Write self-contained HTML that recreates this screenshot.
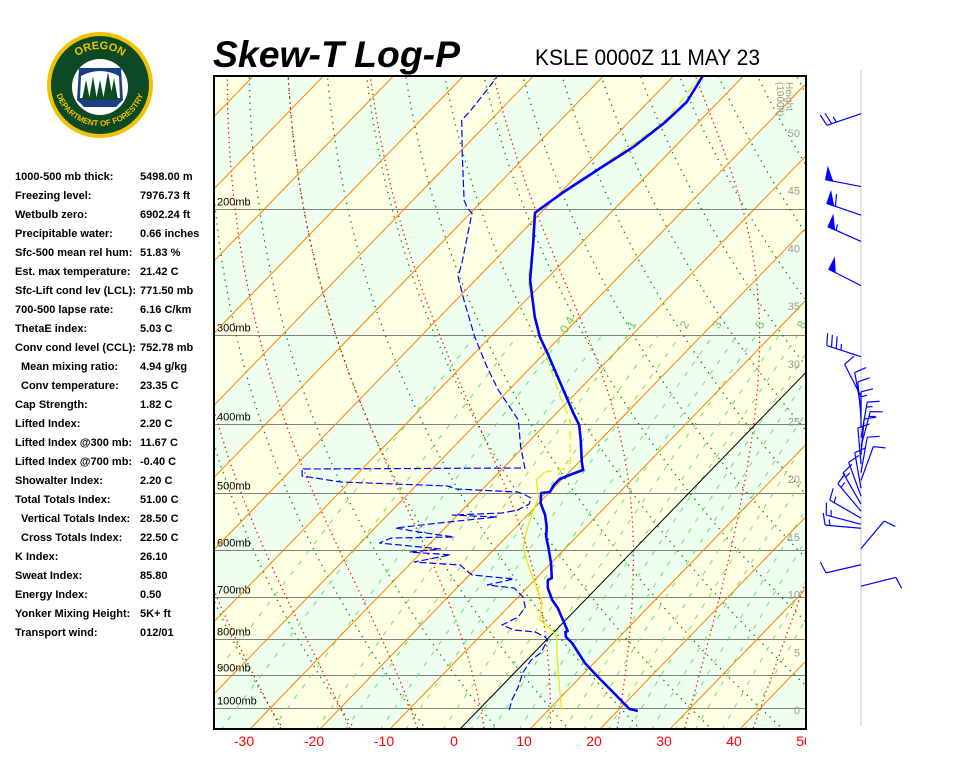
<!DOCTYPE html>
<html><head><meta charset="utf-8">
<style>
body{margin:0;background:#fff}
svg{display:block}
text{font-family:"Liberation Sans",Arial,sans-serif}
.st{font-size:11px;font-weight:bold;fill:#000}
</style></head>
<body>
<svg id="s" width="960" height="768" viewBox="0 0 960 768" xmlns="http://www.w3.org/2000/svg">
<defs>
<clipPath id="pc"><rect x="214" y="76" width="592" height="653"/></clipPath>
<clipPath id="lc"><rect x="200" y="730" width="606" height="30"/></clipPath>
<path id="arcTop" d="M61,88 A39,39 0 0 1 139,88"/>
<path id="arcBot" d="M54,80 A46,46 0 0 0 146,80"/>
</defs>

<g>
<circle cx="100" cy="85" r="53" fill="#f2c200"/>
<circle cx="100" cy="85" r="49" fill="#0b4a25"/>
<circle cx="100" cy="87" r="28" fill="#fff"/>
<path d="M79,68 L121,68 L123,100 L116,107 L84,107 L77,100 Z" fill="#1b3f86"/>
<path d="M81,76 Q100,66 119,76 L120,98 L80,98 Z" fill="#fff"/>
<polygon points="82,100 86,80 90,100" fill="#0b4a25"/>
<polygon points="89,100 93,76 97,100" fill="#0b4a25"/>
<polygon points="96,100 100,80 104,100" fill="#0b4a25"/>
<polygon points="103,100 108,72 113,100" fill="#0b4a25"/>
<polygon points="110,100 114,78 118,100" fill="#0b4a25"/>
<text font-size="11" font-weight="bold" fill="#f2c200"><textPath href="#arcTop" startOffset="50%" text-anchor="middle">OREGON</textPath></text>
<text font-size="8" font-weight="bold" fill="#f2c200"><textPath href="#arcBot" startOffset="50%" text-anchor="middle">DEPARTMENT OF FORESTRY</textPath></text>
</g>

<text x="213" y="67" font-size="37" font-weight="bold" font-style="italic" textLength="247" lengthAdjust="spacingAndGlyphs">Skew-T Log-P</text>
<text x="535" y="65" font-size="22" textLength="225" lengthAdjust="spacingAndGlyphs">KSLE 0000Z 11 MAY 23</text>

<g>
<text class="st" x="15" y="180">1000-500 mb thick:</text><text class="st" x="140" y="180">5498.00 m</text>
<text class="st" x="15" y="199">Freezing level:</text><text class="st" x="140" y="199">7976.73 ft</text>
<text class="st" x="15" y="218">Wetbulb zero:</text><text class="st" x="140" y="218">6902.24 ft</text>
<text class="st" x="15" y="237">Precipitable water:</text><text class="st" x="140" y="237">0.66 inches</text>
<text class="st" x="15" y="256">Sfc-500 mean rel hum:</text><text class="st" x="140" y="256">51.83 %</text>
<text class="st" x="15" y="275">Est. max temperature:</text><text class="st" x="140" y="275">21.42 C</text>
<text class="st" x="15" y="294">Sfc-Lift cond lev (LCL):</text><text class="st" x="140" y="294">771.50 mb</text>
<text class="st" x="15" y="313">700-500 lapse rate:</text><text class="st" x="140" y="313">6.16 C/km</text>
<text class="st" x="15" y="332">ThetaE index:</text><text class="st" x="140" y="332">5.03 C</text>
<text class="st" x="15" y="351">Conv cond level (CCL):</text><text class="st" x="140" y="351">752.78 mb</text>
<text class="st" x="21" y="370">Mean mixing ratio:</text><text class="st" x="140" y="370">4.94 g/kg</text>
<text class="st" x="21" y="389">Conv temperature:</text><text class="st" x="140" y="389">23.35 C</text>
<text class="st" x="15" y="408">Cap Strength:</text><text class="st" x="140" y="408">1.82 C</text>
<text class="st" x="15" y="427">Lifted Index:</text><text class="st" x="140" y="427">2.20 C</text>
<text class="st" x="15" y="446">Lifted Index @300 mb:</text><text class="st" x="140" y="446">11.67 C</text>
<text class="st" x="15" y="465">Lifted Index @700 mb:</text><text class="st" x="140" y="465">-0.40 C</text>
<text class="st" x="15" y="484">Showalter Index:</text><text class="st" x="140" y="484">2.20 C</text>
<text class="st" x="15" y="503">Total Totals Index:</text><text class="st" x="140" y="503">51.00 C</text>
<text class="st" x="21" y="522">Vertical Totals Index:</text><text class="st" x="140" y="522">28.50 C</text>
<text class="st" x="21" y="541">Cross Totals Index:</text><text class="st" x="140" y="541">22.50 C</text>
<text class="st" x="15" y="560">K Index:</text><text class="st" x="140" y="560">26.10</text>
<text class="st" x="15" y="579">Sweat Index:</text><text class="st" x="140" y="579">85.80</text>
<text class="st" x="15" y="598">Energy Index:</text><text class="st" x="140" y="598">0.50</text>
<text class="st" x="15" y="617">Yonker Mixing Height:</text><text class="st" x="140" y="617">5K+ ft</text>
<text class="st" x="15" y="636">Transport wind:</text><text class="st" x="140" y="636">012/01</text>
</g>

<g id="plot" clip-path="url(#pc)">
<g id="bands"></g><g id="grid"></g><g id="series"></g>
</g>
<g id="labels"></g>
<rect x="214" y="76" width="592" height="653" fill="none" stroke="#000" stroke-width="2"/>
<line x1="861" y1="70" x2="861" y2="726" stroke="#e4e4e4" stroke-width="2"/>
<g id="winds"></g>
</svg>

<script>
// ---- data ----
const tempP=[1009.7,1003,952.8,904.8,864.9,810.9,795.3,782.6,780,752.9,724.3,705.8,679,661.8,657.6,626.4,594.9,576,557.9,536.6,516.2,499.8,498.2,487.1,477.8,470.1,464.1,452.2,421.3,401.3,386.1,370.3,343.8,317.2,302.2,283.3,251.4,223.1,202.5,199.5,189.3,174.6,163.7,151.5,141.6,130.2];
const tempT=[22.9,21.4,17.0,12.5,8.7,4.1,2.4,1.6,1.8,-0.4,-2.8,-4.7,-7.0,-8.1,-7.8,-10.0,-12.6,-14.3,-15.6,-17.5,-19.8,-21.1,-20.0,-20.4,-20.4,-19.3,-18.3,-19.6,-22.8,-25.1,-27.6,-30.2,-34.8,-39.8,-42.9,-46.4,-52.2,-56.9,-60.8,-60.6,-59.6,-57.6,-55.9,-54.8,-54.5,-55.8];
const dewP=[1006.5,974.5,934.5,893.2,856.6,837.4,803,795.3,782.6,777.6,765.1,745.7,721.9,699,679,672.5,659.6,651.1,640.7,630.5,624.4,610.3,604.5,598.7,587.3,577.9,576,566.7,559.5,548.8,540,536.6,533.1,528,517.8,507.9,503,498.2,493.4,488.7,482.4,473.1,462.6,461.1,430.9,394.9,358.5,332.9,302.2,268.1,249,238,216,202.5,199.5,194.3,166.9,150.2,145.3,136.2,130.6];
const dewT=[4.4,3.4,2.5,1.2,0.6,1.0,0.2,-0.6,-2.7,-6.0,-8.4,-7.2,-7.6,-9.3,-11.8,-16.1,-13.1,-19.6,-21.2,-22.7,-29.7,-25.5,-31.7,-27.7,-37.3,-36.3,-27.5,-33.3,-37.1,-30.4,-24.1,-30.8,-23.9,-22.1,-21.3,-21.9,-23.1,-24.6,-33.8,-35.4,-51.2,-57.6,-58.6,-26.9,-30.4,-34.5,-41.5,-46.3,-52.2,-58.9,-62.9,-64.3,-67.6,-69.8,-71.1,-72.7,-79.5,-84.1,-84.2,-84.7,-85.1];
const wbP=[1006.5,952.8,837.4,795.3,777.6,752.9,712.7,668.2,630.5,594.9,576,557.9,536.6,506.3,479.3,467.1,462.6,453.7,394.9,366.6,325.4,288.9,251.4,228.2,202.5,199.5,174.6,151.5,130.2];
const wbT=[11.9,9.3,3.3,1.1,-0.6,-3.7,-5.7,-9.5,-13.0,-16.2,-17.3,-18.3,-19.4,-20.9,-23.6,-23.5,-21.2,-21.1,-27.1,-31.7,-38.6,-45.4,-52.5,-56.1,-61.0,-60.8,-57.8,-55.0,-56.0];
const windP=[147,186,204,222,256,322,366,380,392,405,418,430,442,455,468,480,492,505,518,530,542,553,560,598,630,675];
const windDir=[251,281,289,294,297,288,333,350,355,0,10,15,5,355,10,20,350,340,330,320,300,285,275,40,257,76];
const windSpd=[25,50,60,55,50,35,10,10,10,15,15,15,10,10,10,10,10,10,15,15,15,15,15,10,10,10];
const pressLevels=[1000,900,800,700,600,500,400,300,200];
const tempTicks=[-30,-20,-10,0,10,20,30,40,50];
const heightTicks=[0,5,10,15,20,25,30,35,40,45,50];
const mixRatios=[0.1,0.2,0.4,0.7,1,1.5,2,3,4,5,6.5,8,10,12,15,18,22,27,32,40,48];
const mixLabels=["0.4","1","2","3","5","8"];
const dryThetas=[-60,-50,-40,-30,-20,-10,0,10,20,30,40,50,60,70,80,90,100,110,120,130,140,150];
const moistT0=[-50,-40,-30,-20,-10,0,10,20,30,40,50];

const NS='http://www.w3.org/2000/svg';
const X0=460,YB=729,SK=0.97,PX=7,PTOP=128,PBOT=1075;
function yP(p){return 708-310*Math.log(1000/p);}
function xT(T,y){return X0+PX*T+SK*(YB-y);}
function pt(p,T){const y=yP(p);return [xT(T,y),y];}
function mk(tag,attrs,parent){const e=document.createElementNS(NS,tag);for(const k in attrs)e.setAttribute(k,attrs[k]);parent.appendChild(e);return e;}
function pathD(arr){return arr.map((q,i)=>(i?'L':'M')+q[0].toFixed(1)+','+q[1].toFixed(1)).join('');}
const gBands=document.getElementById('bands'),gGrid=document.getElementById('grid'),gSeries=document.getElementById('series'),gLabels=document.getElementById('labels'),gWinds=document.getElementById('winds');

for(let T=-160;T<=60;T+=10){
  const even=(((Math.floor(T/10))%2)+2)%2===0;
  const poly=mk('polygon',{points:[[xT(T,YB),YB],[xT(T+10,YB),YB],[xT(T+10,70),70],[xT(T,70),70]].map(q=>q.join(',')).join(' '),fill:even?'#efffef':'#ffffe4'},gBands);
  
  
}
pressLevels.forEach(p=>{
  const y=Math.round(yP(p))+0.5;
  const l=mk('line',{x1:214,x2:806,y1:y,y2:y,stroke:'#808080','stroke-width':1},gGrid);
  
  
  const t=mk('text',{x:217,y:y-4,'font-size':11,fill:'#000'},gGrid);
  t.textContent=p+'mb';
  
  
});
// dry adiabats (green dotted)
dryThetas.forEach(th=>{
  const arr=[];
  for(let p=PBOT;p>=PTOP;p*=0.98){arr.push(pt(p,(th+273.15)*Math.pow(p/1000,0.2857)-273.15));}
  const e=mk('path',{d:pathD(arr),fill:'none',stroke:'#008000','stroke-width':1.3,'stroke-dasharray':'1.3,5'},gGrid);
  
  
});
// moist adiabats (red dotted)
function es(Tc){return 6.112*Math.exp(17.67*Tc/(Tc+243.5));}
function dTdlnp(T,p){const e=es(T-273.15);const rs=0.622*e/(p-e);return (287*T+2.5e6*rs)/(1004+2.5e6*2.5e6*rs*0.622/(287*T*T));}
moistT0.forEach(t0=>{
  let T=t0+273.15,p=1000;const up=[[p,T]];
  while(p>PTOP){T+=dTdlnp(T,p)*(-0.01);p*=Math.exp(-0.01);up.push([p,T]);}
  T=t0+273.15;p=1000;const dn=[];
  while(p<PBOT){T+=dTdlnp(T,p)*0.01;p*=Math.exp(0.01);dn.push([p,T]);}
  const all=dn.reverse().concat(up).map(q=>pt(q[0],q[1]-273.15));
  const e=mk('path',{d:pathD(all),fill:'none',stroke:'#ff0000','stroke-width':1.3,'stroke-dasharray':'1.3,3.5'},gGrid);
  
  
});
function mixT(w,p){const e=w*p/(622+w);const L=Math.log(e/6.112);return 243.5*L/(17.67-L);}
mixRatios.forEach(w=>{
  const arr=[];
  for(let p=PBOT;p>=300;p*=0.97){arr.push(pt(p,mixT(w,p)));}
  arr.push(pt(300,mixT(w,300)));
  const e=mk('path',{d:pathD(arr),fill:'none',stroke:'#6ee06e','stroke-width':1,'stroke-dasharray':'5,8'},gGrid);
  
  
  const lab=String(w);
  if(mixLabels.indexOf(lab)>=0){
    const q=pt(300,mixT(w,300));
    const lx=q[0]+7,ly=q[1]-8;
    const t=mk('text',{x:lx,y:ly,'font-size':12,fill:'#66cc66','text-anchor':'middle',transform:'rotate(-60 '+lx+' '+ly+')'},gGrid);
    t.textContent=lab;
    
    
  }
});
for(let T=-160;T<=60;T+=10){
  const e=mk('line',{x1:xT(T,YB),y1:YB,x2:xT(T,70),y2:70,stroke:T===0?'#000':'#ff8000','stroke-width':1},gGrid);
  
  
}
const hl=mk('text',{x:786,y:82,'font-size':10,fill:'#999',transform:'rotate(90 786 82)'},gGrid);
hl.textContent='Height';


const hl2=mk('text',{x:777,y:82,'font-size':10,fill:'#999',transform:'rotate(90 777 82)'},gGrid);
hl2.textContent='(1000ft)';


heightTicks.forEach(h=>{
  const t=mk('text',{x:800,y:710-11.54*h+4,'font-size':11,fill:'#999','text-anchor':'end'},gGrid);
  t.textContent=h;
  
  
});

function seriesPath(P,T){return pathD(P.map((p,i)=>pt(p,T[i])));}
const wbLow=[],wbLowT=[],wbHi=[],wbHiT=[];
wbP.forEach((p,i)=>{if(p>=466){wbLow.push(p);wbLowT.push(wbT[i]);} if(p<=468){wbHi.push(p);wbHiT.push(wbT[i]);}});
const wb1=mk('path',{d:seriesPath(wbLow,wbLowT),fill:'none',stroke:'#e8e800','stroke-width':1.2},gSeries);


const wb2=mk('path',{d:seriesPath(wbHi,wbHiT),fill:'none',stroke:'#e8e800','stroke-width':1.2,'stroke-dasharray':'8,5'},gSeries);


const dp=mk('path',{d:seriesPath(dewP,dewT),fill:'none',stroke:'#0000ff','stroke-width':1.2,'stroke-dasharray':'7,3'},gSeries);


const tp=mk('path',{d:seriesPath(tempP,tempT),fill:'none',stroke:'#0000ff','stroke-width':2.6,'stroke-linejoin':'round'},gSeries);



const lg=mk('g',{'clip-path':'url(#lc)'},gLabels);
tempTicks.forEach(T=>{
  const t=mk('text',{x:xT(T,YB)-6,y:746,'font-size':14,fill:'#ff0000','text-anchor':'middle'},lg);
  t.textContent=T;
  
  
});

windP.forEach((p,i)=>{
  const x=861,y=yP(p),a=windDir[i]*Math.PI/180,ux=Math.sin(a),uy=-Math.cos(a);
  const L=36,px=-uy,py=ux;
  const g=mk('g',{stroke:'#0000ff','stroke-width':1.2,fill:'#0000ff'},gWinds);
  
  
  mk('line',{x1:x,y1:y,x2:x+ux*L,y2:y+uy*L},g);
  let s=Math.round(windSpd[i]/5)*5,d=L;
  while(s>=50){const b1=[x+ux*d,y+uy*d],b2=[x+ux*(d-7),y+uy*(d-7)],ap=[b1[0]+px*12,b1[1]+py*12];
    mk('polygon',{points:[b1,ap,b2].map(q=>q.join(',')).join(' ')},g);d-=9;s-=50;}
  while(s>=10){const b=[x+ux*d,y+uy*d];mk('line',{x1:b[0],y1:b[1],x2:b[0]+px*12+ux*3,y2:b[1]+py*12+uy*3},g);d-=5;s-=10;}
  if(s>=5){if(d===L)d-=5;const b=[x+ux*d,y+uy*d];mk('line',{x1:b[0],y1:b[1],x2:b[0]+px*6+ux*1.5,y2:b[1]+py*6+uy*1.5},g);}
});
</script>
</body></html>
